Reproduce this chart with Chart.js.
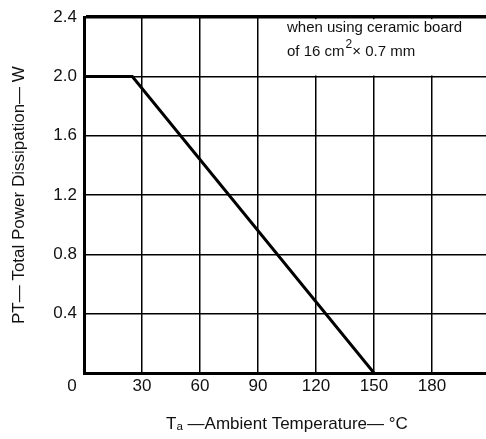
<!DOCTYPE html>
<html lang="en">
<head>
    <meta charset="UTF-8">
    <title>Total Power Dissipation vs Ambient Temperature</title>
    <script src="https://cdn.jsdelivr.net/npm/chart.js"></script>
    <style>
        html, body { margin: 0; padding: 0; background: #fff; overflow: hidden; width: 486px; height: 439px; }
        #chart { display: block; }
    </style>
</head>
<body>
    <canvas id="chart" width="490" height="439"></canvas>
    <script>
        // Derating curve
        const temps = [0, 25, 150];
        const power = [2.0, 2.0, 0];
        const xTicks = [30, 60, 90, 120, 150, 180];
        const yTicks = [0.4, 0.8, 1.2, 1.6, 2.0, 2.4];
        const noteLines = ['when using ceramic board', 'of 16 cm', '2', '\u00d7 0.7 mm'];

        const FONT = "'Liberation Sans', Arial, Helvetica, sans-serif";

        // White note box in the top right cell + the "0" origin label
        const extras = {
            id: 'extras',
            beforeDatasetsDraw(chart) {
                const { ctx, scales: { x, y } } = chart;
                const left = x.getPixelForValue(90) + 1;
                const right = chart.width;
                const top = y.getPixelForValue(2.4) + 2;
                const bottom = y.getPixelForValue(2.0) - 1;
                ctx.save();
                ctx.fillStyle = '#fff';
                ctx.fillRect(left, top, right - left, bottom - top);
                ctx.fillStyle = '#111';
                ctx.textBaseline = 'middle';
                ctx.font = '15px ' + FONT;
                const tx = x.getPixelForValue(90) + 29;
                ctx.fillText(noteLines[0], tx, 28);
                ctx.fillText(noteLines[1], tx, 52);
                let w = ctx.measureText(noteLines[1]).width;
                ctx.font = '12px ' + FONT;
                ctx.fillText(noteLines[2], tx + w + 1, 45);
                w += ctx.measureText(noteLines[2]).width + 1;
                ctx.font = '15px ' + FONT;
                ctx.fillText(noteLines[3], tx + w, 52);
                // origin label
                ctx.font = '17px ' + FONT;
                ctx.textAlign = 'center';
                ctx.fillText('0', 72, 386);
                ctx.restore();
            }
        };

        const chart = new Chart(document.getElementById('chart'), {
            type: 'line',
            data: {
                datasets: [{
                    data: temps.map((t, i) => ({ x: t, y: power[i] })),
                    borderColor: '#000',
                    borderWidth: 3,
                    pointRadius: 0,
                    tension: 0,
                    fill: false
                }]
            },
            options: {
                responsive: false,
                animation: false,
                layout: { padding: { top: 11, right: 0, left: 0, bottom: 0 } },
                plugins: { legend: { display: false }, tooltip: { enabled: false } },
                scales: {
                    x: {
                        type: 'linear',
                        min: 0,
                        max: 210,
                        afterFit(scale) { scale.height = 66; },
                        afterBuildTicks(scale) { scale.ticks = [0].concat(xTicks).map(v => ({ value: v })); },
                        border: { color: '#000', width: 3 },
                        grid: { color: '#000', lineWidth: 1.5, drawTicks: false },
                        ticks: {
                            color: '#111',
                            font: { family: FONT, size: 17 },
                            padding: 3,
                            maxRotation: 0,
                            callback: v => (v === 0 ? '' : String(v))
                        },
                        title: {
                            display: true,
                            text: 'T\u2090 \u2014Ambient Temperature\u2014 \u00b0C',
                            color: '#111',
                            font: { family: FONT, size: 17 },
                            padding: { top: 10, bottom: 4 }
                        }
                    },
                    y: {
                        min: 0,
                        max: 2.4,
                        afterFit(scale) { scale.width = 84; },
                        afterBuildTicks(scale) { scale.ticks = [0].concat(yTicks).map(v => ({ value: v })); },
                        border: { color: '#000', width: 3 },
                        grid: {
                            color: '#000',
                            lineWidth: c => (c.tick && c.tick.value === 2.4 ? 3.5 : 1.5),
                            drawTicks: false
                        },
                        ticks: {
                            color: '#111',
                            font: { family: FONT, size: 17 },
                            padding: 7,
                            callback: v => (v === 0 ? '' : v.toFixed(1))
                        },
                        title: {
                            display: true,
                            text: 'PT\u2014 Total Power Dissipation\u2014 W',
                            color: '#111',
                            font: { family: FONT, size: 17 },
                            padding: { top: 9, bottom: 0 }
                        }
                    }
                }
            },
            plugins: [extras]
        });
    </script>
</body>
</html>
